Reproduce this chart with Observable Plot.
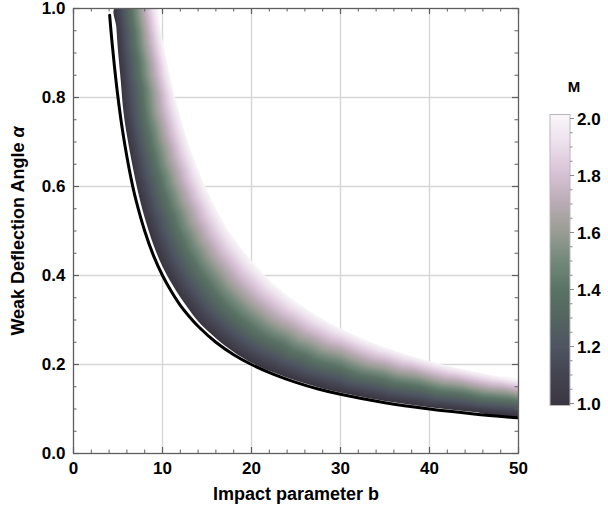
<!DOCTYPE html>
<html><head><meta charset="utf-8">
<script src="https://cdn.jsdelivr.net/npm/d3@7"></script>
<script src="https://cdn.jsdelivr.net/npm/@observablehq/plot@0.6"></script>
<style>
body{margin:0;background:#fff}
svg{font-family:"Liberation Sans",Arial,sans-serif}
</style>
</head><body><div id="chart"></div>
<script>
// ---- tick labels ----
const xTicks = [0, 10, 20, 30, 40, 50];
const yTicks = [0, 0.2, 0.4, 0.6, 0.8, 1.0];
const mTicks = [1.0, 1.2, 1.4, 1.6, 1.8, 2.0];
const xLabel = "Impact parameter b";
const yLabel = "Weak Deflection Angle α";
const mLabel = "M";

// ---- colour legend stops (M = 1.0 ... 2.0 every 0.1) ----
const mColors = ["#3a3641", "#444350", "#4e5462", "#546460", "#5a7366", "#74897b",
                 "#9a9d95", "#baabb6", "#d8c2d6", "#ecdfec", "#f9f7f9"];

// ---- band edge at M = 1 (dark edge) ----
const bandLowB = [4.62, 4.8, 5.0, 5.3, 5.6, 6.0, 6.5, 7.0, 7.5, 8.0, 9.0, 10, 11, 12, 13, 14, 16, 18, 20, 22.5, 25, 27.5, 30, 35, 40, 45, 50];
const bandLowA = [1.0, 0.96, 0.905, 0.84, 0.77, 0.715, 0.66, 0.61, 0.567, 0.53, 0.468, 0.42, 0.383, 0.351, 0.323, 0.297, 0.259, 0.228, 0.204, 0.182, 0.164, 0.149, 0.137, 0.118, 0.104, 0.093, 0.0845];
// ---- band edge at M = 2 (white edge) ----
const bandHighB = [9.4, 9.7, 10, 10.75, 11.5, 12.25, 13, 14, 15, 16, 17, 18, 20, 22.5, 25, 27.5, 30, 32.5, 35, 37.5, 40, 42.5, 45, 47.5, 50];
const bandHighA = [1.0, 0.963, 0.93, 0.857, 0.795, 0.74, 0.692, 0.638, 0.591, 0.551, 0.515, 0.484, 0.433, 0.381, 0.341, 0.308, 0.281, 0.258, 0.239, 0.222, 0.208, 0.195, 0.184, 0.174, 0.165];

// ---- black curve ----
const blackB = [4.06, 4.3, 4.6, 5, 5.5, 6, 6.5, 7, 8, 9, 10, 11, 12, 13, 14, 16, 18, 20, 22.5, 25, 27.5, 30, 35, 40, 45, 50];
const blackA = [0.985, 0.93, 0.87, 0.80, 0.727, 0.667, 0.615, 0.571, 0.50, 0.444, 0.40, 0.364, 0.333, 0.308, 0.286, 0.25, 0.222, 0.20, 0.178, 0.16, 0.145, 0.133, 0.114, 0.10, 0.089, 0.08];
// ---- white curve ----
const whiteB = [4.3, 4.5, 4.8, 5, 5.5, 6, 6.5, 7, 8, 9, 10, 11, 12, 13, 14, 16, 18, 20, 22];
const whiteA = [1.0, 0.952, 0.89, 0.851, 0.769, 0.702, 0.645, 0.597, 0.519, 0.46, 0.412, 0.374, 0.342, 0.315, 0.293, 0.2565, 0.2285, 0.206, 0.188];

// ---- build tables ----
const toPts = (B, A) => B.map((b, i) => ({b, a: A[i]}));
const bandPts = [
  ...bandLowB.map((b, i) => ({b, a: bandLowA[i], M: 1})),
  ...bandHighB.map((b, i) => ({b, a: bandHighA[i], M: 2}))
];
const blackPts = toPts(blackB, blackA);
const whitePts = toPts(whiteB, whiteA);

const W = 608, H = 518, mL = 73, mR = 90, mT = 8, mB = 65;
const FH = H - mT - mB, FW = W - mL - mR;
const xMinor = d3.range(0, 50.001, 2).filter(d => d % 10 !== 0);
const yMinor = d3.range(1, 20).map(i => i / 20).filter((d, i) => (i + 1) % 4 !== 0);
const axisCol = "#5e5e5e";
const tickFont = 17;

const plot = Plot.plot({
  width: W, height: H,
  marginLeft: mL, marginRight: mR, marginTop: mT, marginBottom: mB,
  style: {fontFamily: '"Liberation Sans", Arial, sans-serif', background: "#fff"},
  x: {domain: [0, 50], axis: null},
  y: {domain: [0, 1], axis: null},
  color: {type: "linear", domain: [1, 2], interpolate: d3.piecewise(d3.interpolateRgb, mColors)},
  marks: [
    Plot.gridX([10, 20, 30, 40], {stroke: "#d6d6d6", strokeOpacity: 1, strokeWidth: 1.4}),
    Plot.gridY([0.2, 0.4, 0.6, 0.8], {stroke: "#d6d6d6", strokeOpacity: 1, strokeWidth: 1.4}),
    Plot.line(whitePts, {x: "b", y: "a", stroke: "#ffffff", strokeWidth: 2.4, curve: "catmull-rom", clip: true}),
    Plot.raster(bandPts, {x: "b", y: "a", fill: "M", interpolate: "barycentric"}),
    Plot.line(blackPts, {x: "b", y: "a", stroke: "#000", strokeWidth: 3, curve: "catmull-rom", clip: true}),
    Plot.frame({stroke: axisCol, strokeWidth: 1.3}),
    // major ticks (inward, all four sides)
    Plot.ruleX(xTicks, {x: d => d, insetTop: FH - 6, stroke: axisCol, strokeWidth: 1.2}),
    Plot.ruleX(xTicks, {x: d => d, insetBottom: FH - 6, stroke: axisCol, strokeWidth: 1.2}),
    Plot.ruleY(yTicks, {y: d => d, insetRight: FW - 6, stroke: axisCol, strokeWidth: 1.2}),
    Plot.ruleY(yTicks, {y: d => d, insetLeft: FW - 6, stroke: axisCol, strokeWidth: 1.2}),
    // minor ticks
    Plot.ruleX(xMinor, {x: d => d, insetTop: FH - 3.5, stroke: axisCol, strokeWidth: 1}),
    Plot.ruleX(xMinor, {x: d => d, insetBottom: FH - 3.5, stroke: axisCol, strokeWidth: 1}),
    Plot.ruleY(yMinor, {y: d => d, insetRight: FW - 3.5, stroke: axisCol, strokeWidth: 1}),
    Plot.ruleY(yMinor, {y: d => d, insetLeft: FW - 3.5, stroke: axisCol, strokeWidth: 1}),
    Plot.axisX({ticks: xTicks, tickSize: 0, tickPadding: 8, tickFormat: d => String(d), label: null, fontSize: tickFont, fontWeight: "bold", fill: "#000"}),
    Plot.axisY({ticks: yTicks, tickSize: 0, tickPadding: 8, tickFormat: d3.format(".1f"), label: null, fontSize: tickFont, fontWeight: "bold", fill: "#000"}),
    Plot.text([xLabel], {text: d => d, frameAnchor: "bottom", dy: 46, textAnchor: "middle", fontSize: 18, fontWeight: "bold", fill: "#000"}),
    Plot.text([yLabel], {text: d => d, frameAnchor: "left", dx: -55, rotate: -90, textAnchor: "middle", fontSize: 18, fontWeight: "bold", fill: "#000"})
  ]
});

document.getElementById("chart").appendChild(plot);
const svg = d3.select(plot);

// clip the shaded band to the region between its two read edges
const sx = plot.scale("x"), sy = plot.scale("y");
const poly = [
  ...bandLowB.map((b, i) => [sx.apply(b), sy.apply(bandLowA[i])]),
  ...bandHighB.map((b, i) => [sx.apply(b), sy.apply(bandHighA[i])]).reverse()
];
const defs = svg.insert("defs", ":first-child");
defs.append("clipPath").attr("id", "bandclip")
  .append("path").attr("d", d3.line().curve(d3.curveCatmullRomClosed)(poly));
svg.selectAll('g[aria-label="raster"]').attr("clip-path", "url(#bandclip)");

// italic alpha in y label
svg.selectAll("text").filter(function () { return this.textContent === yLabel; }).each(function () {
  const t = d3.select(this);
  t.text(yLabel.slice(0, -1));
  t.append("tspan").attr("font-style", "italic").text("α");
});

// ---- colour bar legend ----
const color = plot.scale("color");
const cbX = 550, cbW = 20, cbBottom = 403.5, cbTop = 118.5;
const cy = v => cbBottom - (v - 1) * (cbBottom - cbTop);
const grad = defs.append("linearGradient").attr("id", "cbgrad")
  .attr("x1", 0).attr("y1", 1).attr("x2", 0).attr("y2", 0);
d3.range(0, 21).forEach(i => {
  grad.append("stop").attr("offset", i / 20).attr("stop-color", color.apply(1 + i / 20));
});
const leg = svg.append("g");
leg.append("rect").attr("x", cbX).attr("y", cbTop - 4).attr("width", cbW).attr("height", cbBottom - cbTop + 6)
  .attr("fill", "url(#cbgrad)").attr("stroke", "#b8b8b8").attr("stroke-width", 1);
d3.range(1, 2.0001, 0.05).forEach(v => {
  const major = Math.abs(v * 5 - Math.round(v * 5)) < 1e-6;
  leg.append("line").attr("x1", cbX + cbW).attr("x2", cbX + cbW + (major ? 4 : 2.5))
    .attr("y1", cy(v)).attr("y2", cy(v)).attr("stroke", "#8a8a8a").attr("stroke-width", 1);
});
mTicks.forEach(v => {
  leg.append("text").attr("x", 577).attr("y", cy(v)).attr("dy", "0.36em")
    .attr("font-size", tickFont).attr("font-weight", "bold").attr("text-anchor", "start").attr("fill", "#000")
    .text(d3.format(".1f")(v));
});
leg.append("text").attr("x", 574).attr("y", 87).attr("dy", "0.36em")
  .attr("font-size", 15).attr("font-weight", "bold").attr("text-anchor", "middle").attr("fill", "#000")
  .text(mLabel);
</script>
</body></html>
